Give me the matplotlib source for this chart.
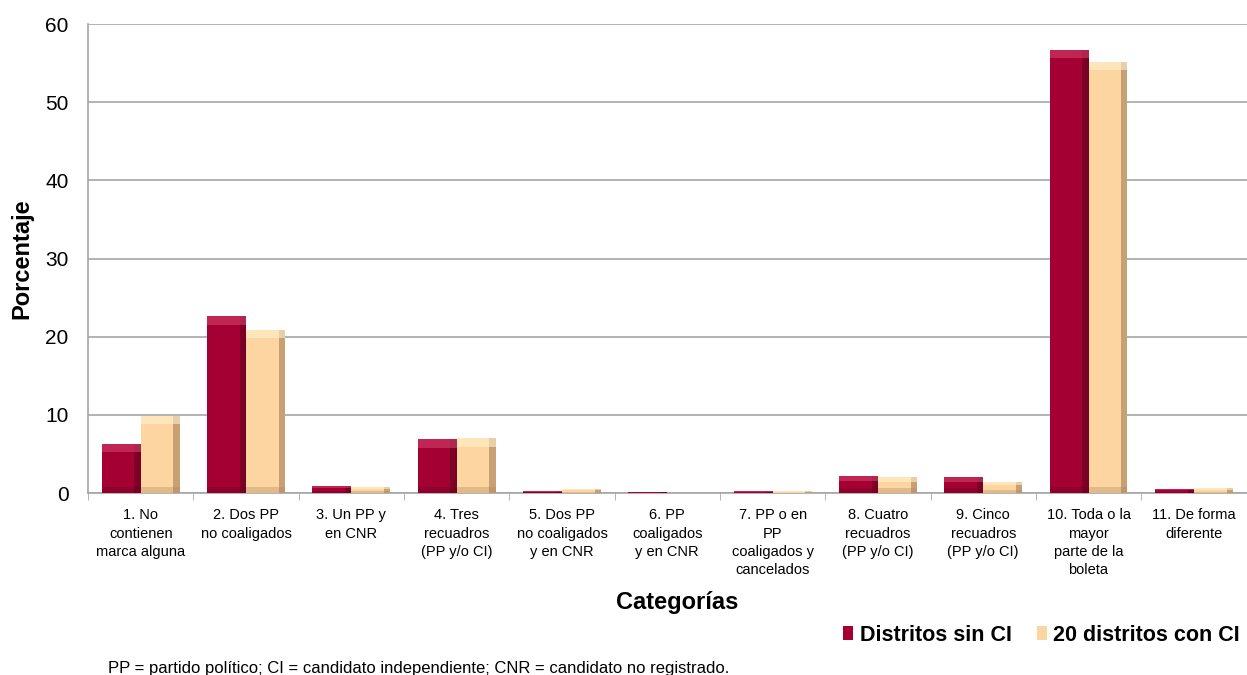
import numpy as np
import matplotlib.pyplot as plt

plt.rcParams['font.family'] = ['Liberation Sans', 'DejaVu Sans']

categorias = ["1. No\ncontienen\nmarca alguna", "2. Dos PP\nno coaligados", "3. Un PP y\nen CNR",
              "4. Tres\nrecuadros\n(PP y/o CI)", "5. Dos PP\nno coaligados\ny en CNR", "6. PP\ncoaligados\ny en CNR",
              "7. PP o en\nPP\ncoaligados y\ncancelados", "8. Cuatro\nrecuadros\n(PP y/o CI)",
              "9. Cinco\nrecuadros\n(PP y/o CI)", "10. Toda o la\nmayor\nparte de la\nboleta", "11. De forma\ndiferente"]
sin_ci = [6.3, 22.6, 0.9, 6.9, 0.25, 0.1, 0.2, 2.2, 2.0, 56.7, 0.5]
con_ci = [9.9, 20.9, 0.8, 7.0, 0.5, 0.05, 0.2, 2.0, 1.4, 55.2, 0.6]
series = ["Distritos sin CI", "20 distritos con CI"]
colores = ["#A50034", "#FDD5A0"]
oscuro = ["#6B0020", "#B08A60"]
claro = ["#D2406A", "#FFF0CC"]

fig = plt.figure(figsize=(12.47, 6.75), dpi=100)
ax = fig.add_axes([0.0706, 0.2696, 0.929, 0.6948])

x = np.arange(len(categorias))
w = 0.37
for i, vals in enumerate([sin_ci, con_ci]):
    pos = x + (i - 0.5) * w
    v = np.array(vals)
    ax.bar(pos, v, w, color=colores[i], label=series[i], zorder=3)
    # efecto biselado: franja oscura a la derecha, clara arriba, sombra abajo
    arriba = np.minimum(v * 0.3, 1.1)
    abajo = np.minimum(v * 0.3, 0.8)
    ax.bar(pos + w * 0.42, v, w * 0.16, color=oscuro[i], alpha=0.7, zorder=4, linewidth=0)
    ax.bar(pos, arriba, w, bottom=v - arriba, color=claro[i], alpha=0.6, zorder=4, linewidth=0)
    ax.bar(pos, abajo, w, color=oscuro[i], alpha=0.35, zorder=4, linewidth=0)

ax.set_xlim(-0.5, len(categorias) - 0.5)
ax.set_ylim(0, 60)
ax.set_yticks(np.arange(0, 61, 10))
ax.yaxis.grid(True, color="#A6A6A6", linewidth=1.2, zorder=0)
ax.set_xticks(x)
ax.set_xticklabels(categorias, fontsize=10.5, linespacing=1.4)
ax.set_xticks(np.arange(-0.5, len(categorias), 1), minor=True)
ax.tick_params(axis="x", which="major", length=0, pad=11)
ax.tick_params(axis="x", which="minor", length=5, color="#A6A6A6")
ax.tick_params(axis="y", length=0, pad=14, labelsize=15)
for s in ["top", "right"]:
    ax.spines[s].set_visible(False)
for s in ["left", "bottom"]:
    ax.spines[s].set_color("#A6A6A6")
    ax.spines[s].set_linewidth(1.2)

fig.text(0.0176, 0.617, "Porcentaje", fontsize=17, fontweight="bold", rotation=90, ha="center", va="center")
fig.text(0.543, 0.108, "Categorías", fontsize=17, fontweight="bold", ha="center", va="center")

handles, labels = ax.get_legend_handles_labels()
fig.legend(handles, labels, loc="center right", bbox_to_anchor=(1.01, 0.059), ncol=2,
           frameon=False, prop={"size": 15.5, "weight": "bold"}, handlelength=0.45, handleheight=0.65,
           handletextpad=0.3, columnspacing=1.2)
fig.text(0.087, 0.01, "PP = partido político; CI = candidato independiente; CNR = candidato no registrado.",
         fontsize=12, va="center")

plt.savefig("out.png", dpi=100)
